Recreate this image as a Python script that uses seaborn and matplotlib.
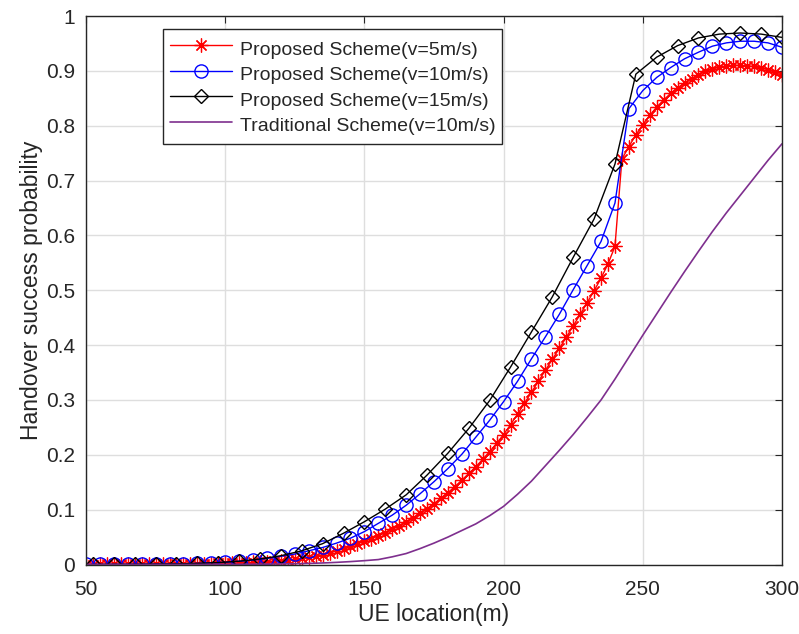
import matplotlib
matplotlib.use("Agg")
import matplotlib.pyplot as plt
import seaborn as sns
import numpy as np

# UE location grids (m) of each series
x_v5 = np.arange(50, 300.1, 2.5)
x_v10 = np.arange(50, 300.1, 5)
x_v15 = np.arange(52.5, 300.1, 7.5)
x_trad = np.arange(50, 300.1, 5)

# handover success probability
p_v5 = [0.0000, 0.0000, 0.0001, 0.0001, 0.0001, 0.0001, 0.0002, 0.0002, 0.0003, 0.0003,
        0.0004, 0.0005, 0.0006, 0.0007, 0.0008, 0.0010, 0.0012, 0.0014, 0.0016, 0.0019,
        0.0022, 0.0026, 0.0030, 0.0035, 0.0040, 0.0047, 0.0054, 0.0062, 0.0071, 0.0082,
        0.0094, 0.011, 0.013, 0.015, 0.018, 0.021, 0.025, 0.029, 0.033, 0.038,
        0.042, 0.047, 0.052, 0.058, 0.064, 0.070, 0.077, 0.085, 0.093, 0.102,
        0.111, 0.121, 0.131, 0.142, 0.154, 0.166, 0.178, 0.192, 0.206, 0.221,
        0.237, 0.255, 0.274, 0.294, 0.314, 0.334, 0.354, 0.374, 0.394, 0.414,
        0.435, 0.456, 0.477, 0.499, 0.522, 0.548, 0.580, 0.739, 0.762, 0.783,
        0.802, 0.819, 0.834, 0.847, 0.859, 0.869, 0.878, 0.886, 0.893, 0.899,
        0.903, 0.907, 0.909, 0.910, 0.910, 0.909, 0.908, 0.905, 0.902, 0.897,
        0.892]
p_v10 = [0.0001, 0.0001, 0.0002, 0.0003, 0.0004, 0.0006, 0.0009, 0.0013, 0.002, 0.003,
         0.004, 0.006, 0.008, 0.011, 0.015, 0.019, 0.025, 0.031, 0.039, 0.048,
         0.060, 0.075, 0.090, 0.108, 0.129, 0.151, 0.175, 0.201, 0.232, 0.263,
         0.297, 0.334, 0.375, 0.415, 0.456, 0.501, 0.545, 0.589, 0.659, 0.831,
         0.864, 0.888, 0.906, 0.922, 0.934, 0.945, 0.951, 0.954, 0.954, 0.951,
         0.943]
p_v15 = [0.0001, 0.0002, 0.0004, 0.0007, 0.0012, 0.002, 0.0035, 0.006, 0.010, 0.016,
         0.025, 0.038, 0.057, 0.078, 0.101, 0.127, 0.163, 0.203, 0.248, 0.299,
         0.360, 0.424, 0.488, 0.560, 0.630, 0.730, 0.894, 0.925, 0.946, 0.960,
         0.967, 0.969, 0.967, 0.961]
p_trad = [0, 0, 0, 0, 0, 0, 0.0001, 0.0001, 0.0001, 0.0002,
          0.0002, 0.0003, 0.0005, 0.0007, 0.001, 0.0014, 0.002, 0.0028, 0.0039, 0.0053,
          0.007, 0.009, 0.014, 0.020, 0.029, 0.039, 0.050, 0.062, 0.074, 0.089,
          0.106, 0.128, 0.152, 0.180, 0.208, 0.237, 0.268, 0.300, 0.338, 0.378,
          0.418, 0.457, 0.496, 0.534, 0.571, 0.607, 0.641, 0.673, 0.705, 0.737,
          0.767]

labels = ["Proposed Scheme(v=5m/s)", "Proposed Scheme(v=10m/s)",
          "Proposed Scheme(v=15m/s)", "Traditional Scheme(v=10m/s)"]

sns.set_theme(style="white")
plt.rcParams["font.family"] = ["Liberation Sans", "DejaVu Sans"]

fig, ax = plt.subplots(figsize=(7.99, 6.34), dpi=100)
fig.subplots_adjust(left=86 / 799, right=782 / 799, bottom=1 - 564.5 / 634, top=1 - 16 / 634)

# MATLAB-like asterisk: 8 spokes
sns.lineplot(x=x_v5, y=p_v5, ax=ax, color="red", lw=1, marker=(8, 2, 0), markersize=10,
             markeredgecolor="red", markerfacecolor="none", markeredgewidth=0.9, label=labels[0])
sns.lineplot(x=x_v10, y=p_v10, ax=ax, color="blue", lw=1, marker="o", markersize=9.5,
             markeredgecolor="blue", markerfacecolor="none", markeredgewidth=1, label=labels[1])
sns.lineplot(x=x_v15, y=p_v15, ax=ax, color="black", lw=1, marker="D", markersize=7.5,
             markeredgecolor="black", markerfacecolor="none", markeredgewidth=1, label=labels[2])
sns.lineplot(x=x_trad, y=p_trad, ax=ax, color="#7E2F8E", lw=1.2, label=labels[3])

ax.set_xlim(50, 300)
ax.set_ylim(0, 1)
ax.set_xticks([50, 100, 150, 200, 250, 300])
ax.set_yticks(np.arange(0, 1.01, 0.1))
ax.set_yticklabels(["0", "0.1", "0.2", "0.3", "0.4", "0.5", "0.6", "0.7", "0.8", "0.9", "1"])
ax.grid(True, color="#dedede", lw=1)
ax.set_axisbelow(True)
ax.tick_params(direction="in", top=True, right=True, length=5, width=0.8,
               color="#262626", labelcolor="#262626", labelsize=15)
ax.tick_params(axis="x", pad=11)
ax.tick_params(axis="y", pad=8)
for s in ax.spines.values():
    s.set_color("#262626")
    s.set_linewidth(1)

ax.set_xlabel("UE location(m)", fontsize=16.5, color="#262626", labelpad=3)
ax.set_ylabel("Handover success probability", fontsize=16.5, color="#262626", labelpad=2)

leg = ax.legend(loc="upper left", bbox_to_anchor=(0.111, 0.976), fontsize=14,
                frameon=True, fancybox=False, edgecolor="#262626", framealpha=1,
                handlelength=3.2, handleheight=1.6, handletextpad=0.4, labelspacing=0.02,
                borderpad=0.35, borderaxespad=0)
leg.get_frame().set_linewidth(1)

fig.savefig("out.png", dpi=100)
